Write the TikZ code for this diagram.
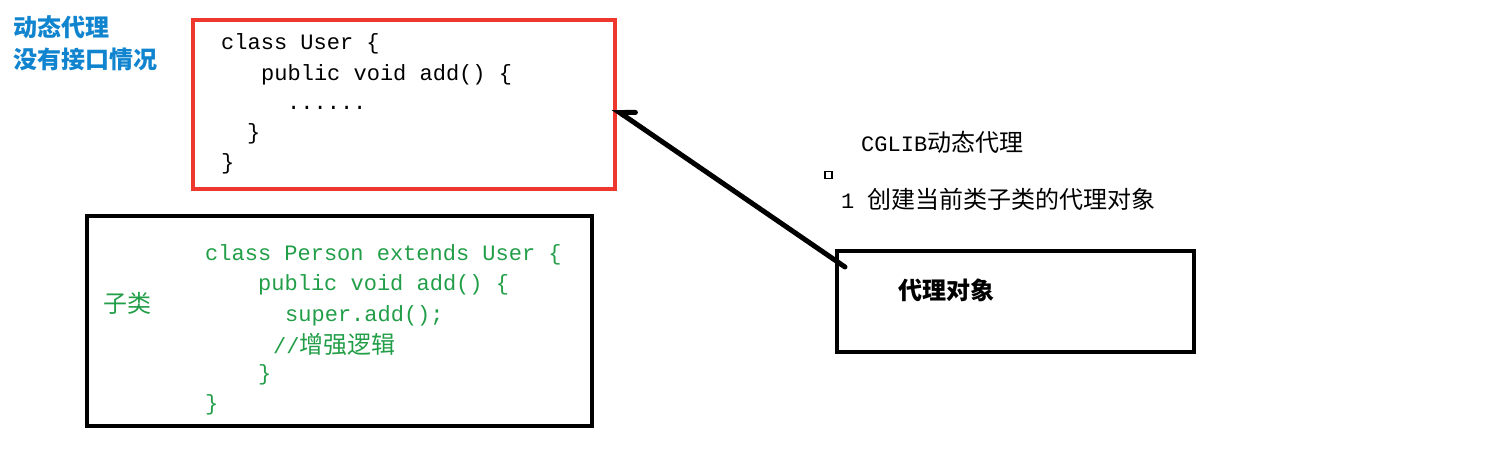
\documentclass[tikz,border=0pt]{standalone}
\usepackage{fontspec}
\usetikzlibrary{arrows.meta}
\newfontfamily\mono{Liberation Mono}
\newfontfamily\cjk{Noto Sans CJK SC}
\definecolor{boxred}{RGB}{238,56,46}
\definecolor{codegreen}{RGB}{34,158,72}
\definecolor{labelblue}{RGB}{16,132,206}
\tikzset{
  codeline/.style={anchor=base west, inner sep=0pt, font=\mono\fontsize{22}{26}\selectfont},
  cjkline/.style={anchor=base west, inner sep=0pt, font=\cjk\fontsize{24}{28}\selectfont},
  frame/.style={draw, line width=4pt, inner sep=0pt, anchor=north west},
}
\begin{document}
\begin{tikzpicture}[x=1pt,y=-1pt]
\useasboundingbox (0,0) rectangle (1494,460);
% boxes
\node[frame, draw=boxred, minimum width=422pt, minimum height=169pt] (userbox) at (191,18) {};
\node[frame, minimum width=505pt, minimum height=210pt] (personbox) at (85,214) {};
\node[frame, minimum width=357pt, minimum height=101pt] (proxybox) at (835,249) {};
% blue labels
\node[cjkline, text=labelblue, font=\cjk\bfseries\fontsize{24}{28}\selectfont] (l1) at (13,37) {动态代理};
\node[cjkline, text=labelblue, font=\cjk\bfseries\fontsize{24}{28}\selectfont] (l2) at (13,69) {没有接口情况};
% User code
\node[codeline] (u1) at (221,50) {class User \{};
\node[codeline] (u2) at (261,81) {public void add() \{};
\node[codeline] (u3) at (287,109) {......};
\node[codeline] (u4) at (247,139) {\}};
\node[codeline] (u5) at (221,169) {\}};
% Person code
\node[cjkline, text=codegreen] (zl) at (103,312) {子类};
\node[codeline, text=codegreen] (p1) at (205,260) {class Person extends User \{};
\node[codeline, text=codegreen] (p2) at (258,290) {public void add() \{};
\node[codeline, text=codegreen] (p3) at (285,321) {super.add();};
\node[codeline, text=codegreen] (p4) at (273,353) {//{\cjk\fontsize{24}{28}\selectfont 增强逻辑}};
\node[codeline, text=codegreen] (p5) at (258,380) {\}};
\node[codeline, text=codegreen] (p6) at (205,410) {\}};
% right texts
\node[codeline] (cg) at (861,151) {CGLIB{\cjk\fontsize{24}{28}\selectfont 动态代理}};
\node[draw, line width=1.2pt, inner sep=0pt, minimum width=7pt, minimum height=7pt] (sq) at (828.5,175) {};
\node[codeline] (step1) at (841,208) {1 {\cjk\fontsize{24}{28}\selectfont 创建当前类子类的代理对象}};
\node[cjkline, font=\cjk\bfseries\fontsize{24}{28}\selectfont] (proxylabel) at (898,299) {代理对象};
% arrow
\coordinate (tail) at (845,267);
\coordinate (head) at (613,108);
\draw[line width=5pt, line cap=round, -{Straight Barb[right,length=13pt,width=18pt,line cap=round]}] (tail) -- (head);
\end{tikzpicture}
\end{document}
